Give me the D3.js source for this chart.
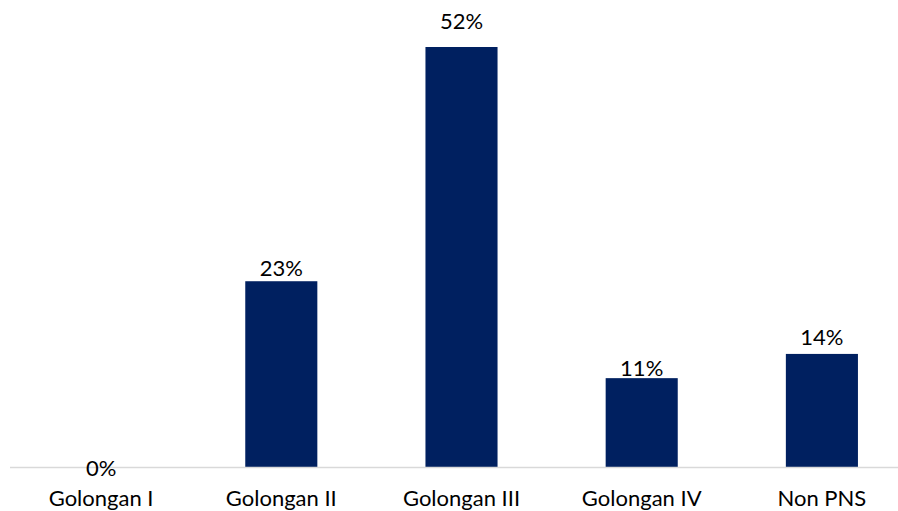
<!DOCTYPE html>
<html>
<head>
<meta charset="utf-8">
<script src="https://cdn.jsdelivr.net/npm/d3@7"></script>
<style>
  body { margin: 0; background: #fff; }
  svg { display: block; }
  text { font-family: Lato, "Open Sans", sans-serif; fill: #000; }
</style>
</head>
<body>
<svg id="chart" width="898" height="511"></svg>
<script>
const categories = ["Golongan I", "Golongan II", "Golongan III", "Golongan IV", "Non PNS"];
const values = [0, 23, 52, 11, 14];
const labels = ["0%", "23%", "52%", "11%", "14%"];
// label gap above each bar (layout only)
const labelGap = [-9, 5, 18, 2, 9];

const svg = d3.select("#chart");
const baseY = 467;

const x = d3.scaleBand().domain(categories).range([11, 912]).paddingInner(0.6).paddingOuter(0.3);
const y = d3.scaleLinear().domain([0, 52]).range([baseY, 47]);

svg.selectAll("rect.bar").data(values).enter().append("rect")
  .attr("class", "bar")
  .attr("x", (d, i) => x(categories[i]))
  .attr("width", x.bandwidth())
  .attr("y", d => y(d))
  .attr("height", d => baseY - y(d))
  .attr("fill", "#002060");

svg.append("line")
  .attr("x1", 10).attr("x2", 898)
  .attr("y1", baseY + 0.5).attr("y2", baseY + 0.5)
  .attr("stroke", "#d9d9d9").attr("stroke-width", 1.5);

svg.selectAll("text.val").data(values).enter().append("text")
  .attr("class", "val")
  .attr("x", (d, i) => x(categories[i]) + x.bandwidth() / 2)
  .attr("y", (d, i) => y(d) - labelGap[i])
  .attr("text-anchor", "middle")
  .attr("font-size", 22)
  .text((d, i) => labels[i]);

const xAxis = d3.axisBottom(x).tickSize(0).tickPadding(0);
const g = svg.append("g").attr("transform", `translate(0,${baseY})`).call(xAxis);
g.select(".domain").remove();
g.selectAll("text").attr("font-size", 22).attr("dy", 0).attr("y", 39)
  .style("font-family", "Lato, 'Open Sans', sans-serif").attr("fill", "#000");
</script>
</body>
</html>
